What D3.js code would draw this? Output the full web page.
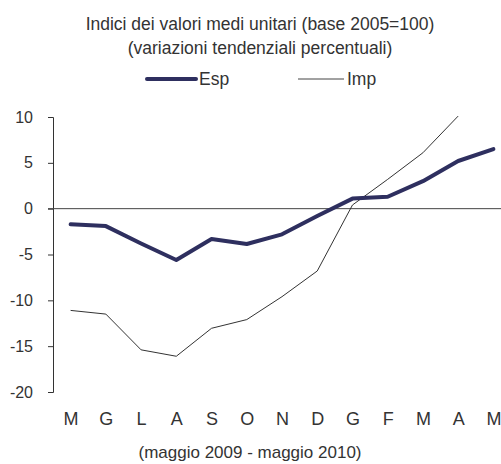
<!DOCTYPE html>
<html><head><meta charset="utf-8">
<script src="https://cdn.jsdelivr.net/npm/d3@7"></script>
<style>body{margin:0;background:#fff}svg{display:block;font-family:"Liberation Sans",Arial,sans-serif}</style>
</head><body><svg id="c" width="501" height="464"></svg>
<script>
const months = ["M","G","L","A","S","O","N","D","G","F","M","A","M"];
const esp = [-1.7,-1.9,-3.8,-5.6,-3.3,-3.85,-2.8,-0.8,1.1,1.3,3.0,5.2,6.5];
const imp = [-11.1,-11.5,-15.4,-16.1,-13.05,-12.1,-9.6,-6.8,0.4,3.2,6.1,10.1,null];
const yTicks = [10,5,0,-5,-10,-15,-20];
const titleLines = ["Indici dei valori medi unitari (base 2005=100)","(variazioni tendenziali percentuali)"];
const xTitle = "(maggio 2009 - maggio 2010)";

const svg = d3.select("#c");
const idx = months.map((d,i)=>i);
const x = d3.scalePoint().domain(idx).range([53,511]).padding(0.5);
const y = d3.scaleLinear().domain([-20,10]).range([392,117]);
const txt = "#333";
const ff = "Liberation Sans, Arial, sans-serif";

svg.selectAll("text.title").data(titleLines).join("text")
  .attr("x",260).attr("y",(d,i)=>30+i*24).attr("text-anchor","middle")
  .attr("font-size",17.5).attr("fill",txt).text(d=>d);

// legend
const lg = svg.append("g");
lg.append("line").attr("x1",147).attr("x2",196).attr("y1",79).attr("y2",79).attr("stroke","#2e2f5f").attr("stroke-width",4).attr("stroke-linecap","round");
lg.append("text").attr("x",199).attr("y",85).attr("font-size",17.5).attr("fill",txt).text("Esp");
lg.append("line").attr("x1",298).attr("x2",344).attr("y1",79).attr("y2",79).attr("stroke","#444").attr("stroke-width",1);
lg.append("text").attr("x",347).attr("y",85).attr("font-size",17.5).attr("fill",txt).text("Imp");

// y axis
const ya = svg.append("g").attr("transform","translate(53,0)")
  .call(d3.axisLeft(y).tickValues(yTicks).tickSize(5).tickPadding(15).tickFormat(d=>String(d)));
ya.select(".domain").attr("stroke","#333");
ya.selectAll(".tick line").attr("stroke","#333");
ya.selectAll("text").attr("font-size",16).attr("fill",txt).attr("font-family",ff);

// zero line
svg.append("line").attr("x1",48).attr("x2",501).attr("y1",y(0)).attr("y2",y(0)).attr("stroke","#444").attr("stroke-width",1);

// x labels
const xa = svg.append("g").attr("transform","translate(0,392)")
  .call(d3.axisBottom(x).tickSize(0).tickPadding(20).tickFormat(i=>months[i]));
xa.select(".domain").remove();
xa.selectAll("text").attr("font-size",18).attr("fill",txt).attr("font-family",ff);

svg.append("text").attr("x",250).attr("y",458).attr("text-anchor","middle").attr("font-size",17).attr("fill",txt).text(xTitle);

const line = d3.line().defined(d=>d[1]!==null).x(d=>x(d[0])).y(d=>y(d[1]));
svg.append("path").datum(imp.map((v,i)=>[i,v])).attr("d",line).attr("fill","none").attr("stroke","#333").attr("stroke-width",1);
svg.append("path").datum(esp.map((v,i)=>[i,v])).attr("d",line).attr("fill","none").attr("stroke","#2e2f5f").attr("stroke-width",4).attr("stroke-linejoin","round").attr("stroke-linecap","round");
</script></body></html>
